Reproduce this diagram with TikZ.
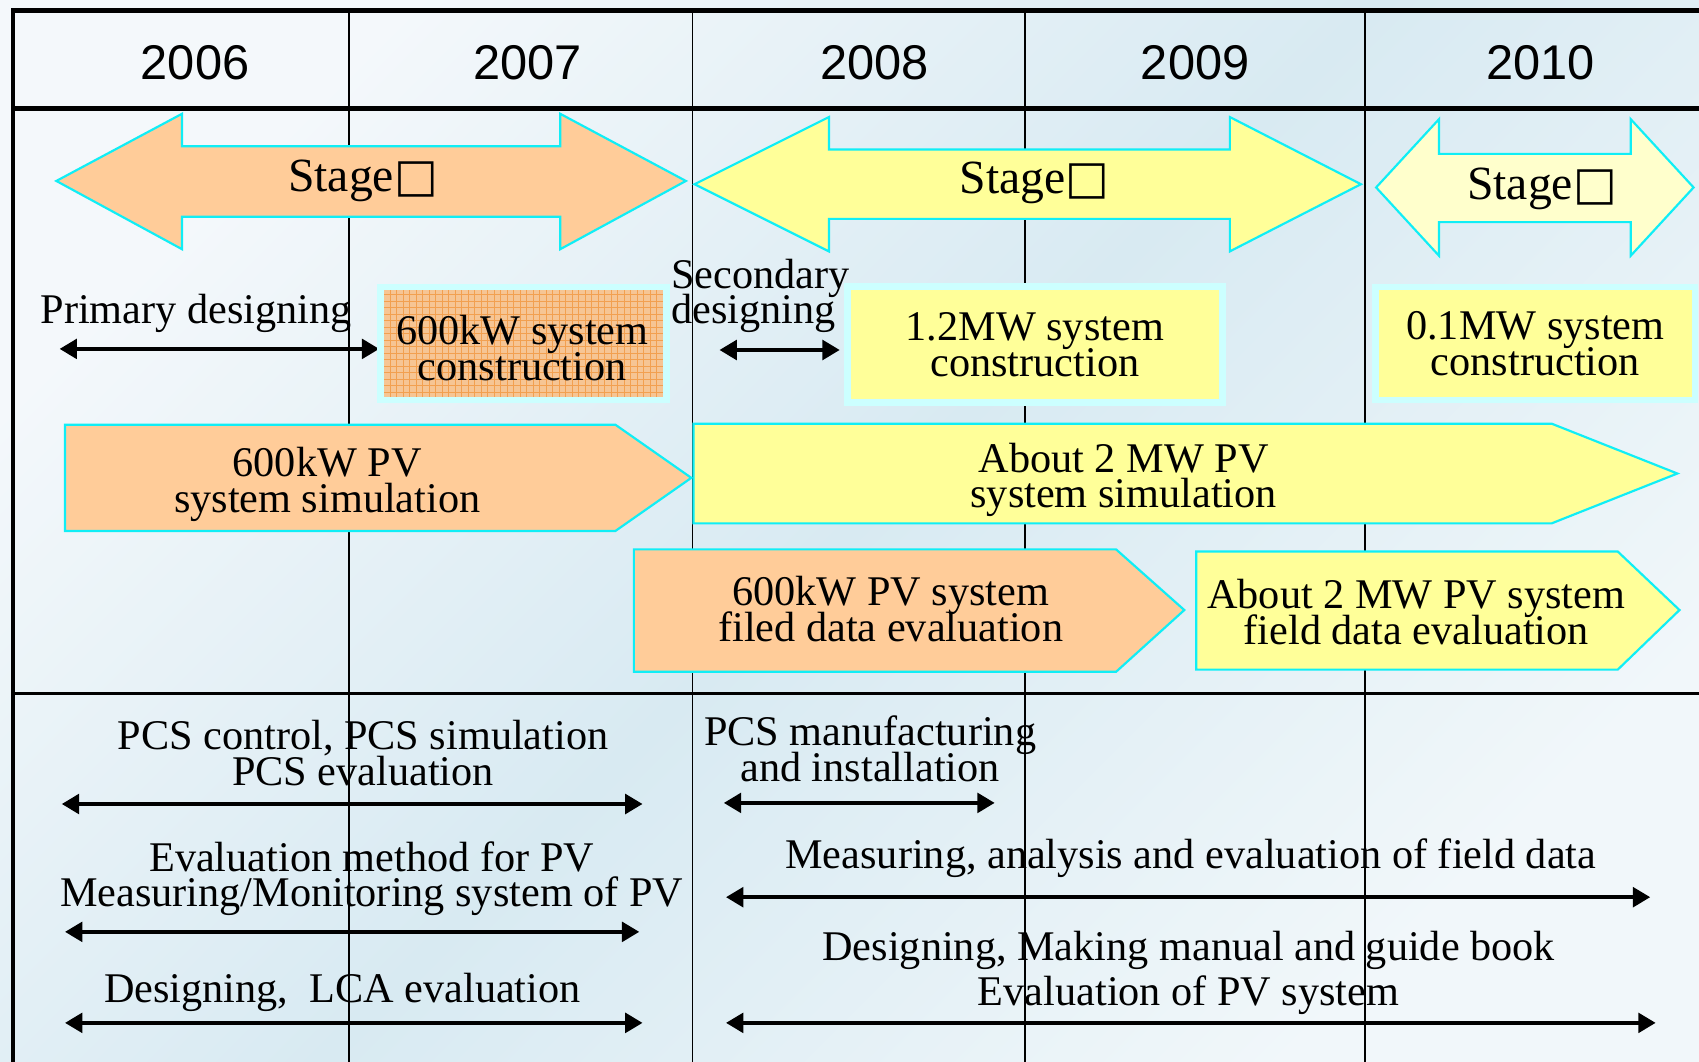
\documentclass[tikz,border=0pt]{standalone}
\usepackage{fontspec}
\setmainfont{Liberation Serif}
\newfontfamily\yearfont{Liberation Sans}
\newfontfamily\glyphfont{DejaVu Sans}[Scale=0.97]
\usetikzlibrary{arrows.meta,patterns}
\newcommand\tightfont{\fontsize{19.5}{16.5}\selectfont\lineskiplimit=-30pt\relax}
\definecolor{bgwhite}{HTML}{F4F8FB}
\definecolor{bgblue}{HTML}{D8EAF2}
\definecolor{bgend}{HTML}{F1F7FA}
\definecolor{edgecyan}{HTML}{10EEF6}
\definecolor{palecyan}{HTML}{CCFFFF}
\definecolor{orangefill}{HTML}{FFCC99}
\definecolor{yellowfill}{HTML}{FFFF99}
\definecolor{paleyellow}{HTML}{FFFFCC}
\definecolor{hatchbase}{HTML}{F6C594}
\definecolor{hatchline}{HTML}{F2A050}
\begin{document}
\begin{tikzpicture}[x=0.5pt,y=-0.5pt,
    year/.style={font=\yearfont\fontsize{22.5}{27}\selectfont},
    stagetext/.style={font=\fontsize{22}{26}\selectfont, inner sep=0pt},
    txt/.style={font=\tightfont, align=center, inner sep=0pt},
    band/.style={draw=edgecyan, line width=1pt},
    cbox/.style={txt, draw=palecyan, line width=3pt},
    dblarrow/.style={{Triangle[length=8pt,width=9pt]}-{Triangle[length=8pt,width=9pt]}, line width=1.8pt}]
    \useasboundingbox (0,0) rectangle (1568,980);
    \shade[top color=bgwhite, bottom color=bgend, middle color=bgblue, shading angle=45] (0,0) rectangle (1568,980);

    % grid of the years
    \foreach \xv in {322,639,946,1260}
        \draw[line width=0.8pt] (\xv,10) -- (\xv,980);
    \draw[line width=1.2pt] (13,640) -- (1570,640);
    \draw[line width=2.3pt] (1570,10) -- (12,10) -- (12,980);
    \draw[line width=2.3pt] (12,100) -- (1570,100);

    \node[year] (y2006) at (180,58) {2006};
    \node[year] (y2007) at (487,58) {2007};
    \node[year] (y2008) at (807,58) {2008};
    \node[year] (y2009) at (1103,58) {2009};
    \node[year] (y2010) at (1422,58) {2010};

    % stages
    \draw[band, fill=orangefill] (52,167) -- (168,105) -- (168,135) -- (517,135) -- (517,105) -- (633,167)
        -- (517,230) -- (517,200) -- (168,200) -- (168,230) -- cycle;
    \draw[band, fill=yellowfill] (641,170) -- (765,108) -- (765,138) -- (1135,138) -- (1135,108) -- (1256,170)
        -- (1135,232) -- (1135,202) -- (765,202) -- (765,232) -- cycle;
    \draw[band, fill=paleyellow] (1270,173) -- (1328,110) -- (1328,142) -- (1505,142) -- (1505,110) -- (1563,173)
        -- (1505,236) -- (1505,205) -- (1328,205) -- (1328,236) -- cycle;
    \node[stagetext] (stage1) at (335,167) {Stage{\glyphfont □}};
    \node[stagetext] (stage2) at (955,169) {Stage{\glyphfont □}};
    \node[stagetext] (stage3) at (1423,174) {Stage{\glyphfont □}};

    % designing and construction
    \node[txt] (primary) at (181,289) {Primary designing};
    \coordinate (primL) at (55,322);
    \coordinate (primR) at (350,322);
    \draw[dblarrow] (primL) -- (primR);
    \node[txt, anchor=west, align=left] (secondary) at (619,273) {Secondary\\designing};
    \coordinate (secL) at (664,323);
    \coordinate (secR) at (775,323);
    \draw[dblarrow] (secL) -- (secR);

    \node[cbox, preaction={fill=hatchbase}, pattern=grid, pattern color=hatchline,
        minimum width=132pt, minimum height=52pt] (build600) at (483,317) {};
    \node[txt] (build600txt) at (482,321) {600kW system\\construction};
    \node[cbox, fill=yellowfill, minimum width=173pt, minimum height=53.5pt] (build12) at (955,318) {1.2MW system\\construction};
    \node[cbox, fill=yellowfill, minimum width=147.5pt, minimum height=52pt] (build01) at (1417,317) {0.1MW system\\construction};

    % simulation and evaluation
    \draw[band, fill=orangefill] (60,392) -- (568,392) -- (638,441) -- (568,490) -- (60,490) -- cycle;
    \draw[band, fill=yellowfill] (640,391) -- (1432,391) -- (1548,437) -- (1432,483) -- (640,483) -- cycle;
    \draw[band, fill=orangefill] (585,507) -- (1030,507) -- (1093,563) -- (1030,620) -- (585,620) -- cycle;
    \draw[band, fill=yellowfill] (1104,509) -- (1493,509) -- (1550,563) -- (1493,618) -- (1104,618) -- cycle;
    \node[txt] (simA) at (302,447) {600kW PV\\system simulation};
    \node[txt] (simB) at (1037,443) {About 2 MW PV\\system simulation};
    \node[txt] (fieldA) at (822,562) {600kW PV system\\filed data evaluation};
    \node[txt] (fieldB) at (1307,565) {About 2 MW PV system\\field data evaluation};

    % PCS and evaluation work
    \node[txt] (pcsctl) at (335,695) {PCS control, PCS simulation\\PCS evaluation};
    \coordinate (pcsctlL) at (57,742);
    \coordinate (pcsctlR) at (593,742);
    \draw[dblarrow] (pcsctlL) -- (pcsctlR);
    \node[txt] (method) at (343,811) {Evaluation method for PV\\Measuring/Monitoring system of PV};
    \coordinate (methodL) at (60,860);
    \coordinate (methodR) at (590,860);
    \draw[dblarrow] (methodL) -- (methodR);
    \node[txt] (lca) at (316,916) {Designing,~ LCA evaluation};
    \coordinate (lcaL) at (60,944);
    \coordinate (lcaR) at (593,944);
    \draw[dblarrow] (lcaL) -- (lcaR);

    \node[txt] (pcsmake) at (803,691) {PCS manufacturing\\and installation};
    \coordinate (pcsmakeL) at (668,741);
    \coordinate (pcsmakeR) at (918,741);
    \draw[dblarrow] (pcsmakeL) -- (pcsmakeR);
    \node[txt] (fielddata) at (1099,792) {Measuring, analysis and evaluation of field data};
    \coordinate (fielddataL) at (670,828);
    \coordinate (fielddataR) at (1523,828);
    \draw[dblarrow] (fielddataL) -- (fielddataR);
    \node[txt] (manual) at (1097,898) {Designing, Making manual and guide book\\[4pt]Evaluation of PV system};
    \coordinate (manualL) at (670,944);
    \coordinate (manualR) at (1528,944);
    \draw[dblarrow] (manualL) -- (manualR);
\end{tikzpicture}
\end{document}
